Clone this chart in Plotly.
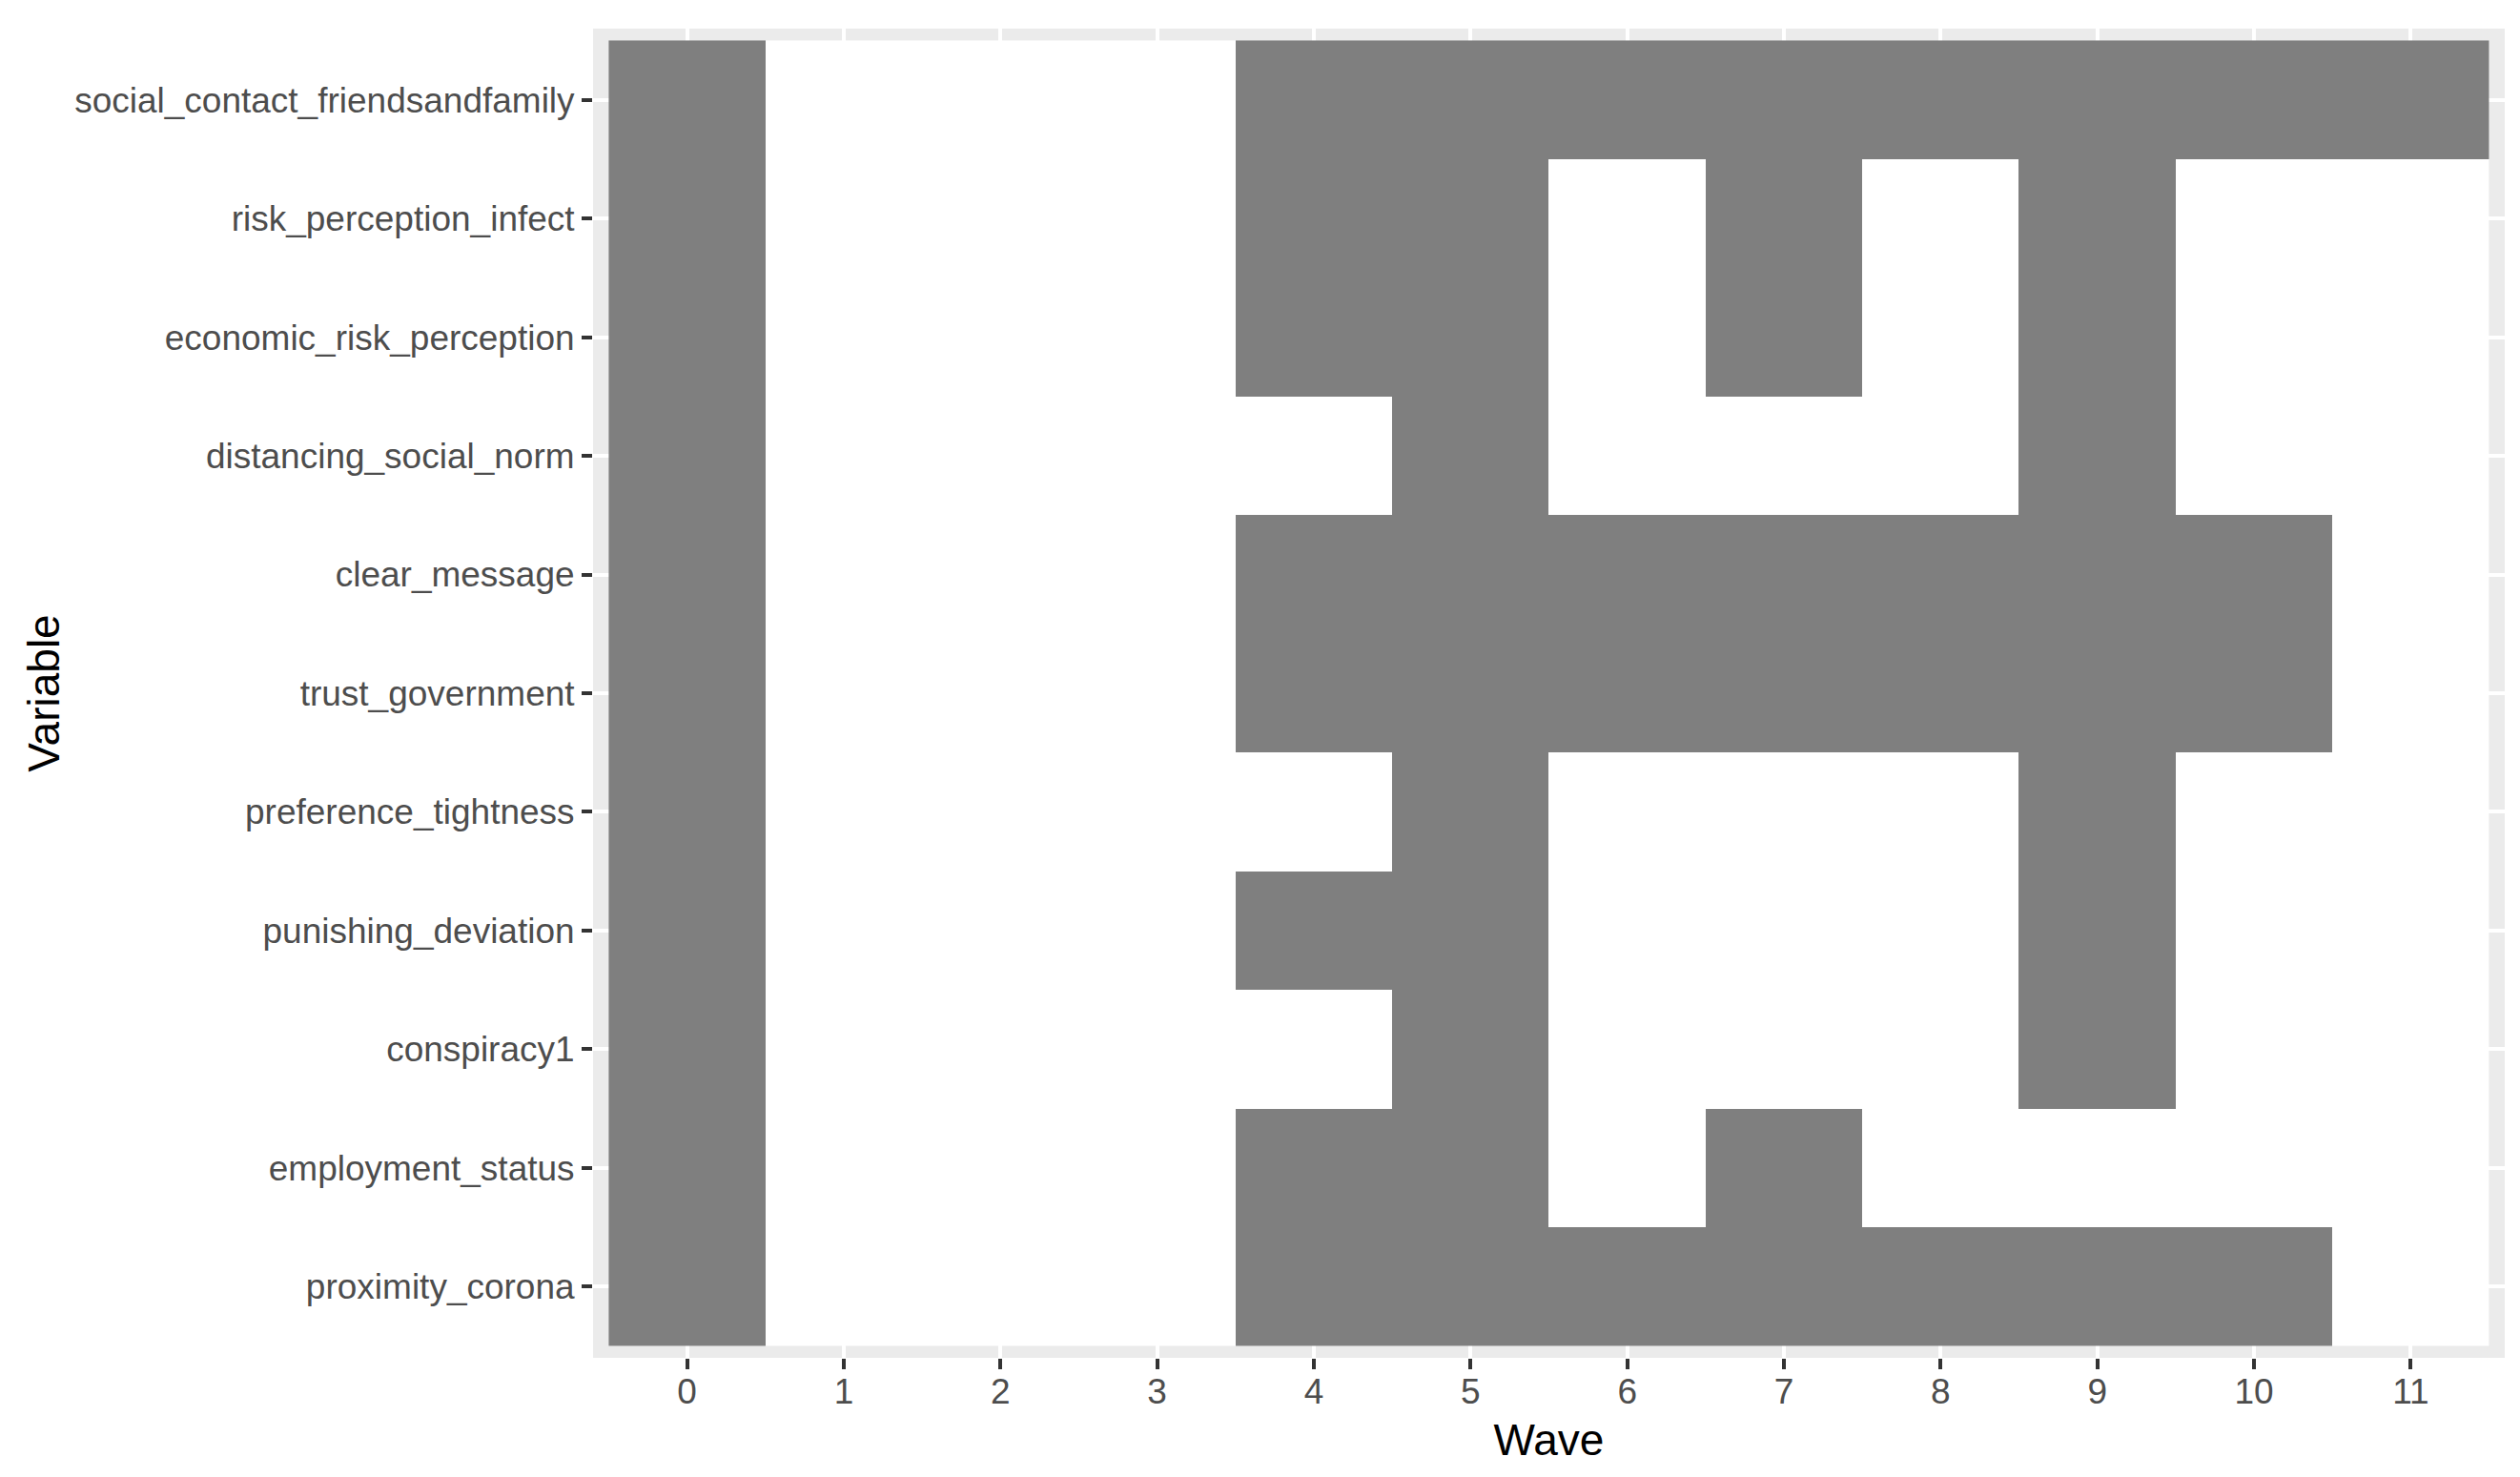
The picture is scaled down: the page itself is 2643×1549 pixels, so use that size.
import plotly.graph_objects as go

waves = list(range(12))
variables = [
    "social_contact_friendsandfamily",
    "risk_perception_infect",
    "economic_risk_perception",
    "distancing_social_norm",
    "clear_message",
    "trust_government",
    "preference_tightness",
    "punishing_deviation",
    "conspiracy1",
    "employment_status",
    "proximity_corona",
]
# 1 = measured in that wave, 0 = not measured (waves 0..11)
social_contact_friendsandfamily = [1, 0, 0, 0, 1, 1, 1, 1, 1, 1, 1, 1]
risk_perception_infect          = [1, 0, 0, 0, 1, 1, 0, 1, 0, 1, 0, 0]
economic_risk_perception        = [1, 0, 0, 0, 1, 1, 0, 1, 0, 1, 0, 0]
distancing_social_norm          = [1, 0, 0, 0, 0, 1, 0, 0, 0, 1, 0, 0]
clear_message                   = [1, 0, 0, 0, 1, 1, 1, 1, 1, 1, 1, 0]
trust_government                = [1, 0, 0, 0, 1, 1, 1, 1, 1, 1, 1, 0]
preference_tightness            = [1, 0, 0, 0, 0, 1, 0, 0, 0, 1, 0, 0]
punishing_deviation             = [1, 0, 0, 0, 1, 1, 0, 0, 0, 1, 0, 0]
conspiracy1                     = [1, 0, 0, 0, 0, 1, 0, 0, 0, 1, 0, 0]
employment_status               = [1, 0, 0, 0, 1, 1, 0, 1, 0, 0, 0, 0]
proximity_corona                = [1, 0, 0, 0, 1, 1, 1, 1, 1, 1, 1, 0]

z = [
    social_contact_friendsandfamily,
    risk_perception_infect,
    economic_risk_perception,
    distancing_social_norm,
    clear_message,
    trust_government,
    preference_tightness,
    punishing_deviation,
    conspiracy1,
    employment_status,
    proximity_corona,
]

fig = go.Figure(
    go.Heatmap(
        x=waves,
        y=variables,
        z=z,
        colorscale=[[0, "#FFFFFF"], [1, "#7F7F7F"]],
        zmin=0,
        zmax=1,
        showscale=False,
        xgap=0,
        ygap=0,
    )
)

font_family = "Liberation Sans, Arial, sans-serif"

fig.update_layout(
    width=2643,
    height=1549,
    margin=dict(l=614, r=24, t=22, b=133),
    paper_bgcolor="#FFFFFF",
    plot_bgcolor="#EBEBEB",
    font=dict(family=font_family, color="#4D4D4D", size=37),
    showlegend=False,
)

fig.update_xaxes(
    range=[-0.6, 11.6],
    tickmode="array",
    tickvals=waves,
    ticktext=[str(w) for w in waves],
    showgrid=True,
    gridcolor="#FFFFFF",
    gridwidth=4,
    zeroline=False,
    showline=False,
    ticks="outside",
    ticklen=11,
    tickwidth=4,
    tickcolor="#333333",
    ticklabelstandoff=-8,
    tickfont=dict(size=37, color="#4D4D4D", family=font_family),
    title=dict(text="Wave", font=dict(size=46, color="#000000", family=font_family), standoff=14),
    automargin=False,
)

fig.update_yaxes(
    type="category",
    categoryorder="array",
    categoryarray=variables[::-1],
    range=[-0.6, 10.6],
    showgrid=True,
    gridcolor="#FFFFFF",
    gridwidth=4,
    zeroline=False,
    showline=False,
    ticks="outside",
    ticklen=11,
    tickwidth=4,
    tickcolor="#333333",
    tickfont=dict(size=37, color="#4D4D4D", family=font_family),
    title=dict(text="Variable", font=dict(size=46, color="#000000", family=font_family), standoff=1),
    automargin=False,
)

fig.write_html("out.html")
